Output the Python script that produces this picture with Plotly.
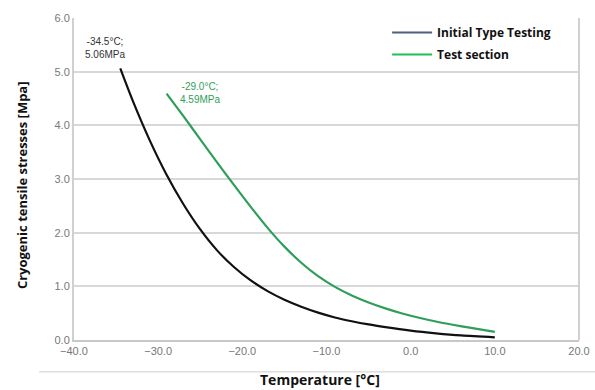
import plotly.graph_objects as go

# Data
itt_temp = [-34.5, -33, -31, -29, -27, -25, -23, -21, -19, -17, -15, -13, -11, -9, -7, -5, -3, 0, 3, 6, 10]
itt_stress = [5.06, 4.45, 3.72, 3.08, 2.53, 2.06, 1.67, 1.36, 1.11, 0.91, 0.75, 0.62, 0.51, 0.42, 0.35, 0.29, 0.24, 0.175, 0.125, 0.085, 0.05]

ts_temp = [-29, -27, -25, -23, -21, -19, -17, -15, -13, -11, -9, -7, -5, -3, -1, 1, 3, 5, 7, 10]
ts_stress = [4.59, 4.17, 3.74, 3.31, 2.89, 2.48, 2.09, 1.74, 1.44, 1.19, 0.99, 0.83, 0.70, 0.59, 0.495, 0.415, 0.345, 0.285, 0.23, 0.15]

x_ticks = [-40, -30, -20, -10, 0, 10, 20]
y_ticks = [0, 1, 2, 3, 4, 5, 6]
series_names = ["Initial Type Testing", "Test section"]

fig = go.Figure()

fig.add_trace(go.Scatter(x=itt_temp, y=itt_stress, mode="lines",
                         line=dict(color="#111111", width=2.2, shape="spline", smoothing=0.8),
                         showlegend=False))
fig.add_trace(go.Scatter(x=ts_temp, y=ts_stress, mode="lines",
                         line=dict(color="#2f9e5a", width=2.2, shape="spline", smoothing=0.8),
                         showlegend=False))
# legend entries (legend line colours differ slightly from the curves)
fig.add_trace(go.Scatter(x=[None], y=[None], mode="lines", name=series_names[0],
                         legendgroup="a", line=dict(color="#4f5f7f", width=2)))
fig.add_trace(go.Scatter(x=[None], y=[None], mode="lines", name=series_names[1],
                         legendgroup="b", line=dict(color="#1fbf55", width=2)))

fig.add_annotation(x=itt_temp[0], y=itt_stress[0], text="-34.5°C;<br>5.06MPa",
                   showarrow=False, xanchor="center", yanchor="bottom", yshift=6, xshift=-15,
                   font=dict(size=10, color="#333333", family="Liberation Sans"))
fig.add_annotation(x=ts_temp[0], y=ts_stress[0], text="-29.0°C;<br>4.59MPa",
                   showarrow=False, xanchor="left", yanchor="top", yshift=15, xshift=11,
                   font=dict(size=10, color="#2f9e5a", family="Liberation Sans"))

# axis titles
fig.add_annotation(xref="paper", yref="paper", x=0.487, y=-0.124, xanchor="center", yanchor="middle",
                   text="<b>Temperature [°C]</b>", showarrow=False,
                   font=dict(family="Open Sans", size=14, color="#111111"))
fig.add_annotation(xref="paper", yref="paper", x=-0.103, y=0.481, xanchor="center", yanchor="middle",
                   text="<b>Cryogenic tensile stresses [Mpa]</b>", showarrow=False, textangle=-90,
                   font=dict(family="Open Sans", size=13, color="#111111"))

fig.update_layout(
    width=595, height=390,
    margin=dict(l=74, r=16, t=18, b=50),
    paper_bgcolor="white", plot_bgcolor="white",
    font=dict(family="Liberation Sans", color="#333333"),
    legend=dict(x=0.62, y=1.0, xanchor="left", yanchor="top",
                bgcolor="white", borderwidth=0,
                font=dict(family="Open Sans", size=12, color="#111111", weight="bold"),
                itemwidth=40, tracegroupgap=3),
    xaxis=dict(range=[-40, 20], tickvals=x_ticks, tickformat=".1f", automargin=False,
               showgrid=False, zeroline=False,
               showline=True, linecolor="#c8c8c8", linewidth=2, mirror=False,
               ticks="", tickfont=dict(size=11, color="#777777")),
    yaxis=dict(range=[0, 6], tickvals=y_ticks, tickformat=".1f", automargin=False,
               showgrid=True, gridcolor="#d8d8d8", gridwidth=2, zeroline=False,
               showline=True, linecolor="#d0d0d0", linewidth=2,
               ticks="", tickfont=dict(size=11, color="#777777")),
)

# right border of the plot area
fig.add_shape(type="line", xref="paper", yref="paper", x0=1, x1=1, y0=0, y1=1,
              line=dict(color="#d0d0d0", width=2))
# frame line below the tick labels
fig.add_shape(type="line", xref="paper", yref="paper", x0=-0.069, x1=1.04, y0=-0.099, y1=-0.099,
              line=dict(color="#cccccc", width=1))

fig.write_html("out.html", config={"displayModeBar": False},
               post_script="document.body.style.margin='0';")
